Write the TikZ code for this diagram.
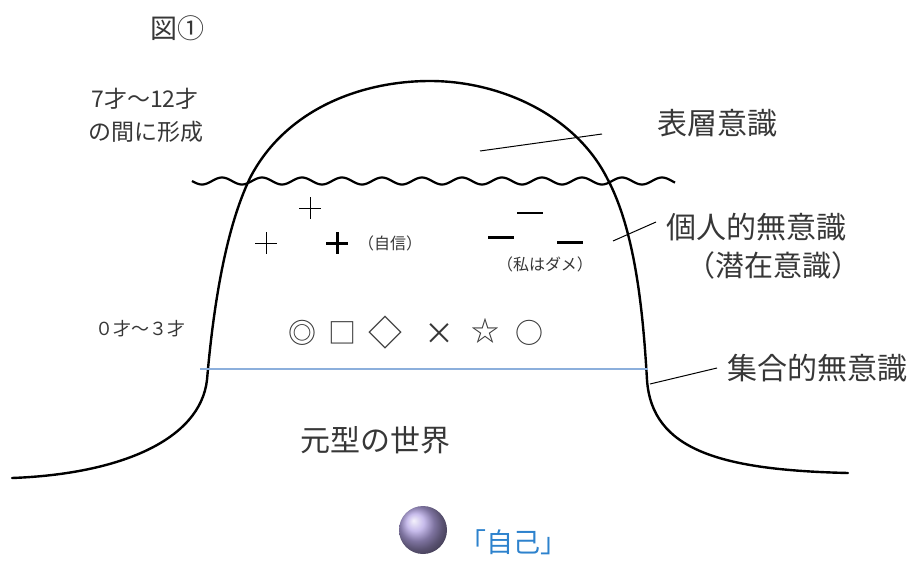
\documentclass[tikz,border=0pt]{standalone}
\usepackage{fontspec}
\newfontfamily\jp{Noto Sans CJK JP}
\definecolor{txt}{RGB}{55,55,55}
\definecolor{bluel}{RGB}{140,175,220}
\definecolor{selfblue}{RGB}{45,130,205}
\definecolor{ballc}{RGB}{180,165,228}
\tikzset{
  lbl/.style={inner sep=0pt, text=txt, font=\jp\fontsize{#1}{#1}\selectfont},
  lbl/.default=30,
  hill/.style={line width=2.4pt, line cap=round},
  leader/.style={line width=1pt},
  sym/.style={inner sep=0pt, text=txt, font=\jp\fontsize{#1}{#1}\selectfont},
  sym/.default=28,
}
\begin{document}
\begin{tikzpicture}[x=1pt,y=-1pt]
\useasboundingbox (0,0) rectangle (914,565);
% title
\node[lbl=27] (title) at (177,28) {図①};
% hill
\draw[hill] (12,478) .. controls (120,474) and (200,440) .. (207,380)
  .. controls (213,310) and (225,230) .. (250,178)
  .. controls (285,110) and (360,81) .. (430,81)
  .. controls (500,81) and (575,115) .. (607,178)
  .. controls (635,230) and (643,310) .. (647,380)
  .. controls (652,450) and (720,470) .. (848,473);
% wave
\draw[line width=2.2pt] plot[domain=192:675, samples=300, smooth] (\x, {181+3.5*sin((\x-192)*9)});
% blue line
\draw[bluel, line width=1.5pt] (200,369) -- (648,369);
% left labels
\node[lbl=23] (age1) at (145,99) {7才～12才};
\node[lbl=23] (age2) at (146,132) {の間に形成};
\node[lbl=18] (age3) at (140,329) {０才～３才};
% right labels
\node[lbl=30] (surf) at (717,123) {表層意識};
\coordinate (s1) at (480,151);
\coordinate (s2) at (602,134);
\draw[leader] (s1) -- (s2);
\node[lbl=30] (pers) at (756,227) {個人的無意識};
\node[lbl=29] (pers2) at (773,265) {（潜在意識）};
\coordinate (p1) at (613,241);
\coordinate (p2) at (656,222);
\draw[leader] (p1) -- (p2);
\node[lbl=30] (coll) at (817,368) {集合的無意識};
\coordinate (c1) at (650,384);
\coordinate (c2) at (717,368);
\draw[leader] (c1) -- (c2);
\node[lbl=30] (arch) at (375,440) {元型の世界};
% plus signs
\draw[line width=1pt] (299,208) -- (321,208) (310,197) -- (310,219);
\draw[line width=1pt] (255,243) -- (277,243) (266,232) -- (266,254);
\draw[line width=3pt] (326,243) -- (348,243) (337,232) -- (337,254);
\node[lbl=16] (conf) at (390,243) {（自信）};
% minus signs
\draw[line width=2.2pt] (517,213) -- (543,213);
\draw[line width=3pt] (488,237) -- (514,237);
\draw[line width=3pt] (557,242) -- (583,242);
\node[lbl=16] (dame) at (545,264) {（私はダメ）};
% symbols
\node[sym] (s_a) at (302,333) {◎};
\node[sym] (s_b) at (342,333) {□};
\node[sym=34] (s_c) at (385,333) {◇};
\node[sym=30] (s_d) at (439,334) {×};
\node[sym] (s_e) at (485,331) {☆};
\node[sym] (s_f) at (529,333) {○};
% self
\shade[ball color=ballc] (423,530) circle (24);
\node[inner sep=0pt, text=selfblue, font=\jp\fontsize{27}{27}\selectfont] (self) at (513,542) {「自己」};
\end{tikzpicture}
\end{document}
